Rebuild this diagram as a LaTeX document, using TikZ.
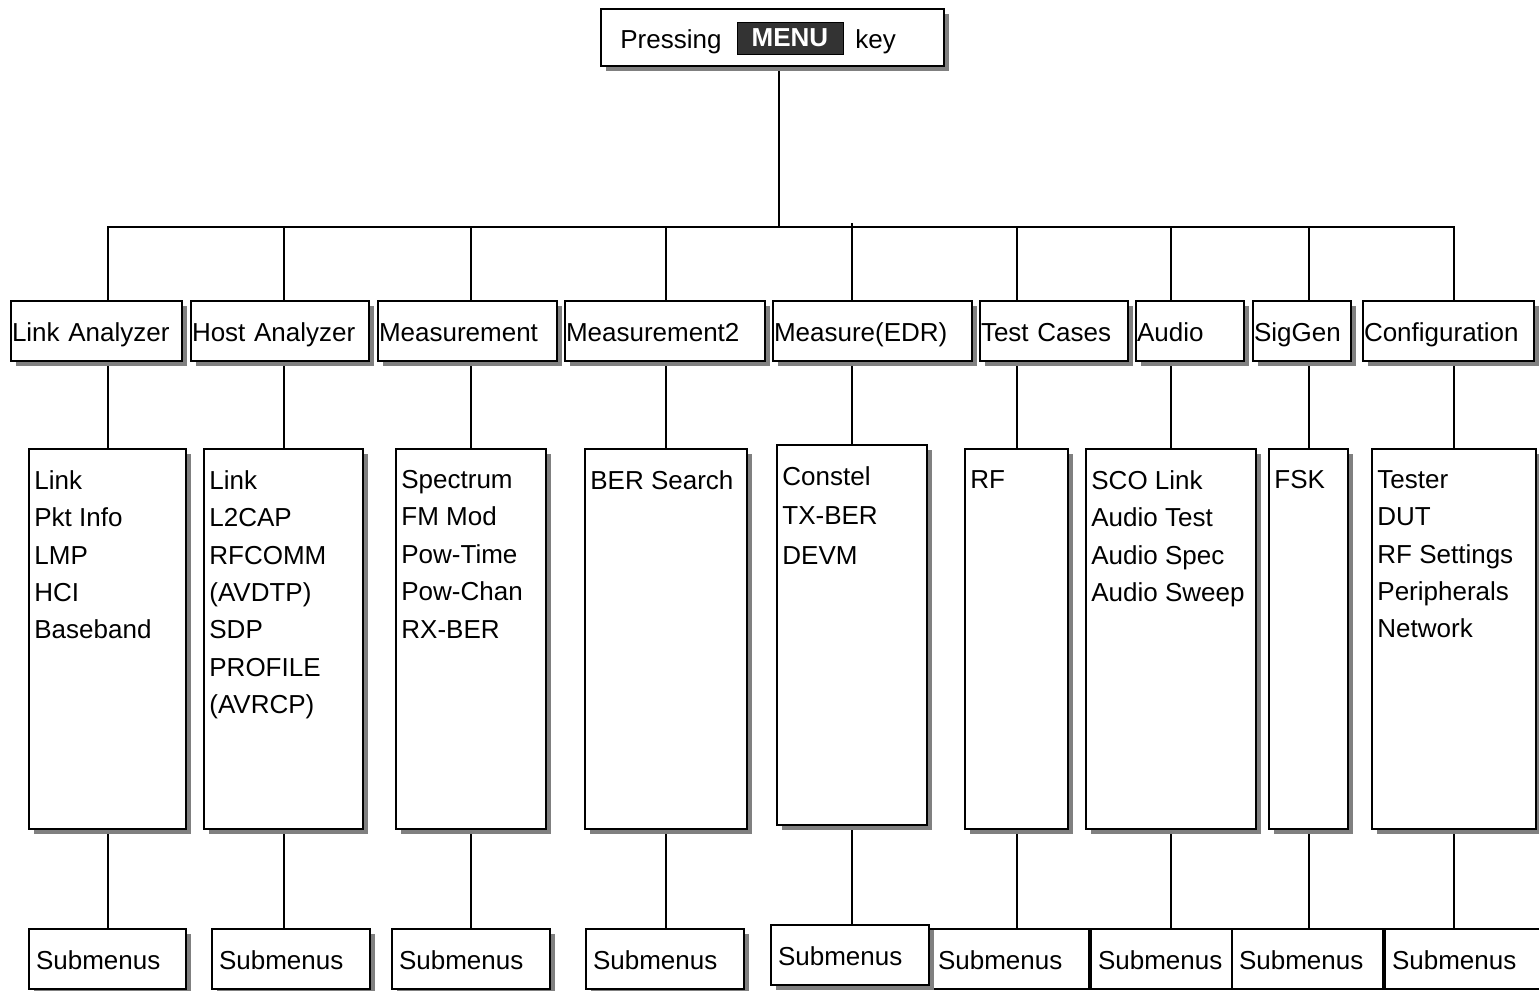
\documentclass[tikz,border=0pt]{standalone}
\usepackage{fontspec}
\setmainfont{Liberation Sans}
\usetikzlibrary{shadows, backgrounds}
\definecolor{shadowgray}{HTML}{808080}
\definecolor{keygray}{HTML}{333333}

\tikzset{
  boxshadow/.style={drop shadow={shadow xshift=2.5pt, shadow yshift=-2.5pt,
      fill=shadowgray, opacity=1}},
  wire/.style={line width=1pt, line cap=rect},
  tab/.style={draw, line width=1pt, fill=white, boxshadow, anchor=north west,
      inner xsep=0.5pt, inner ysep=0pt, minimum height=30pt,
      text height=10.5pt, text depth=0.5pt,
      text width=#1, align=left},
  panel/.style={draw, line width=1pt, fill=white, boxshadow, anchor=north west,
      inner sep=0pt, minimum width=#1, minimum height=190pt},
  items/.style={anchor=north west, inner sep=0pt, align=left},
  subbox/.style={draw, line width=1pt, fill=white, anchor=north west,
      inner xsep=3.5pt, inner ysep=0pt, minimum height=30pt,
      text height=10.5pt, text depth=0.5pt,
      text width=#1, align=left},
}

\begin{document}
\begin{tikzpicture}[x=0.5pt, y=-0.5pt, font=\fontsize{13}{18.7}\selectfont]

\useasboundingbox (0,0) rectangle (1539,991);
\clip (0,0) rectangle (1539,991);

% ================================================================
% Top: Pressing MENU key
% ================================================================
\node[panel=171.5pt, minimum height=28.5pt] (press) at (600,8) {};
\node[anchor=base west, inner sep=0pt] (pressing) at (620,48) {Pressing};
\node[draw, line width=0.5pt, fill=keygray, text=white,
      font=\fontsize{13}{15}\selectfont\bfseries,
      minimum width=53pt, minimum height=16pt, inner sep=0pt]
  (menukey) at (790,38) {MENU};
\node[anchor=base west, inner sep=0pt] (keyword) at (855,48) {key};

\coordinate (bus) at (0,227);
\coordinate (tap) at (779,227);

% ================================================================
% Menu tabs
% ================================================================
\node[tab=84.5pt] (linkan)  at (10,300)   {Link Analyzer};
\node[tab=88pt]   (hostan)  at (190,300)  {Host Analyzer};
\node[tab=88.5pt] (meas)    at (377,300)  {Measurement};
\node[tab=99pt]   (meastwo) at (564,300)  {Measurement2};
\node[tab=98.5pt] (measedr) at (772,300)  {Measure(EDR)};
\node[tab=73pt]   (tests)   at (979,300)  {Test Cases};
\node[tab=53pt]   (audio)   at (1135,300) {Audio};
\node[tab=48pt]   (siggen)  at (1252,300) {SigGen};
\node[tab=84.5pt] (config)  at (1362,300) {Configuration};

% ================================================================
% Item panels
% ================================================================
\node[panel=78.5pt] (boxlinkan)  at (28,448)   {};
\node[panel=79.5pt] (boxhostan)  at (203,448)  {};
\node[panel=75pt]   (boxmeas)    at (395,448)  {};
\node[panel=81pt]   (boxmeastwo) at (584,448)  {};
\node[panel=75pt]   (boxmeasedr) at (776,444)  {};
\node[panel=51.5pt] (boxtests)   at (964,448)  {};
\node[panel=85pt]   (boxaudio)   at (1085,448) {};
\node[panel=39.5pt] (boxsiggen)  at (1268,448) {};
\node[panel=82pt]   (boxconfig)  at (1371,448) {};

% item lists
\node[items] (listlinkan) at ([shift={(3pt,-11pt)}]boxlinkan.north west)
  {Link\\Pkt Info\\LMP\\HCI\\Baseband};
\node[items] (listhostan) at ([shift={(3pt,-11pt)}]boxhostan.north west)
  {Link\\L2CAP\\RFCOMM\\(AVDTP)\\SDP\\PROFILE\\(AVRCP)};
\node[items] (listmeas) at ([shift={(3pt,-11pt)}]boxmeas.north west)
  {Spectrum\\FM Mod\\Pow-Time\\Pow-Chan\\RX-BER};
\node[items] (listmeastwo) at ([shift={(3pt,-11pt)}]boxmeastwo.north west)
  {BER Search};
\node[items, font=\fontsize{13}{19.75}\selectfont] (listmeasedr)
  at ([shift={(3pt,-11pt)}]boxmeasedr.north west)
  {Constel\\TX-BER\\DEVM};
\node[items] (listtests) at ([shift={(3pt,-11pt)}]boxtests.north west)
  {RF};
\node[items] (listaudio) at ([shift={(3pt,-11pt)}]boxaudio.north west)
  {SCO Link\\Audio Test\\Audio Spec\\Audio Sweep};
\node[items] (listsiggen) at ([shift={(3pt,-11pt)}]boxsiggen.north west)
  {FSK};
\node[items] (listconfig) at ([shift={(3pt,-11pt)}]boxconfig.north west)
  {Tester\\DUT\\RF Settings\\Peripherals\\Network};

% ================================================================
% Submenus (right ones overlap, no shadow)
% ================================================================
\node[subbox=72pt]   (subtests)   at (930,928)  {Submenus};
\node[subbox=72.5pt] (subaudio)   at (1090,928) {Submenus};
\node[subbox=68.5pt] (subsiggen)  at (1231,928) {Submenus};
\node[subbox=73pt]   (subconfig)  at (1384,928) {Submenus};

\node[subbox=71.5pt, boxshadow] (sublinkan)  at (28,928)  {Submenus};
\node[subbox=72pt, boxshadow]   (subhostan)  at (211,928) {Submenus};
\node[subbox=72pt, boxshadow]   (submeas)    at (391,928) {Submenus};
\node[subbox=72pt, boxshadow]   (submeastwo) at (585,928) {Submenus};
\node[subbox=72pt, boxshadow]   (submeasedr) at (770,924) {Submenus};

% ================================================================
% Connectors (behind the boxes)
% ================================================================
\begin{scope}[on background layer]
  \draw[wire] (tap |- press.center) -- (tap);
  \draw[wire] (bus -| boxlinkan.north) -- (bus -| boxconfig.north);
  \draw[wire] ([yshift=1.5pt]bus -| boxmeasedr.north) -- (bus -| boxmeasedr.north);

  % bus to panels
  \draw[wire] (bus -| boxlinkan.north)  -- (boxlinkan.north);
  \draw[wire] (bus -| boxhostan.north)  -- (boxhostan.north);
  \draw[wire] (bus -| boxmeas.north)    -- (boxmeas.north);
  \draw[wire] (bus -| boxmeastwo.north) -- (boxmeastwo.north);
  \draw[wire] (bus -| boxmeasedr.north) -- (boxmeasedr.north);
  \draw[wire] (bus -| boxtests.north)   -- (boxtests.north);
  \draw[wire] (bus -| boxaudio.north)   -- (boxaudio.north);
  \draw[wire] (bus -| boxsiggen.north)  -- (boxsiggen.north);
  \draw[wire] (bus -| boxconfig.north)  -- (boxconfig.north);

  % panels to submenus
  \draw[wire] (boxlinkan.south)  -- (boxlinkan.south |- sublinkan.north);
  \draw[wire] (boxhostan.south)  -- (boxhostan.south |- subhostan.north);
  \draw[wire] (boxmeas.south)    -- (boxmeas.south |- submeas.north);
  \draw[wire] (boxmeastwo.south) -- (boxmeastwo.south |- submeastwo.north);
  \draw[wire] (boxmeasedr.south) -- (boxmeasedr.south |- submeasedr.north);
  \draw[wire] (boxtests.south)   -- (boxtests.south |- subtests.north);
  \draw[wire] (boxaudio.south)   -- (boxaudio.south |- subaudio.north);
  \draw[wire] (boxsiggen.south)  -- (boxsiggen.south |- subsiggen.north);
  \draw[wire] (boxconfig.south)  -- (boxconfig.south |- subconfig.north);
\end{scope}

\end{tikzpicture}
\end{document}
